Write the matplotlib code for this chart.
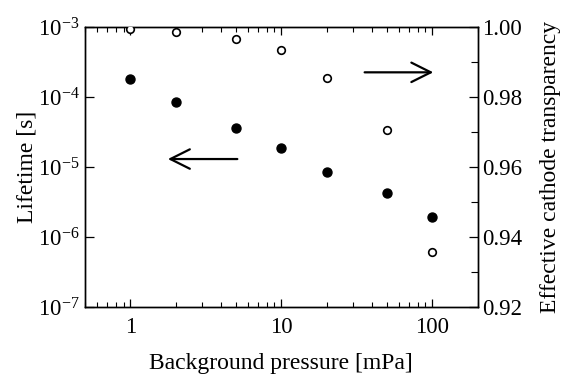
import matplotlib
matplotlib.use("Agg")
import matplotlib.pyplot as plt
from matplotlib.ticker import LogLocator, FixedLocator, NullFormatter, NullLocator, MultipleLocator

plt.rcParams['font.family'] = ['Liberation Serif', 'DejaVu Serif']
plt.rcParams['mathtext.fontset'] = 'custom'
plt.rcParams['mathtext.rm'] = 'Liberation Serif'

pressure = [1, 2, 5, 10, 20, 50, 100]
lifetime = [1.82e-4, 8.45e-5, 3.59e-5, 1.86e-5, 8.5e-6, 4.2e-6, 1.91e-6]
transparency = [0.9995, 0.9987, 0.9967, 0.9934, 0.9856, 0.9706, 0.9356]

y_left_ticks = [1e-7, 1e-6, 1e-5, 1e-4, 1e-3]
y_left_labels = [r'$\mathregular{10^{-7}}$', r'$\mathregular{10^{-6}}$', r'$\mathregular{10^{-5}}$',
                 r'$\mathregular{10^{-4}}$', r'$\mathregular{10^{-3}}$']
y_right_ticks = [0.92, 0.94, 0.96, 0.98, 1.00]
y_right_labels = ['0.92', '0.94', '0.96', '0.98', '1.00']
x_ticks = [1, 10, 100]
x_labels = ['1', '10', '100']

fig = plt.figure(figsize=(5.66, 3.83), dpi=100)
ax = fig.add_axes([85/566, 1 - 307/383, (477.7 - 85)/566, (307 - 27.3)/383])
ax2 = ax.twinx()

ax.scatter(pressure, lifetime, s=42, color='black', zorder=3)
ax2.scatter(pressure, transparency, s=30, facecolor='white', edgecolor='black', linewidth=1.2, zorder=3)

ax.set_xscale('log')
ax.set_yscale('log')
ax.set_xlim(0.5, 200)
ax.set_ylim(1e-7, 1e-3)
ax2.set_ylim(0.92, 1.00)

ax.xaxis.set_major_locator(FixedLocator(x_ticks))
ax.set_xticklabels(x_labels)
ax.xaxis.set_minor_locator(LogLocator(base=10, subs=range(2, 10)))
ax.xaxis.set_minor_formatter(NullFormatter())
ax.yaxis.set_major_locator(FixedLocator(y_left_ticks))
ax.set_yticklabels(y_left_labels)
ax.yaxis.set_minor_locator(NullLocator())

ax2.yaxis.set_major_locator(FixedLocator(y_right_ticks))
ax2.set_yticklabels(y_right_labels)
ax2.yaxis.set_minor_locator(MultipleLocator(0.01))

fs_tick = 16.5
fs_lab = 17
ax.tick_params(axis='x', which='both', direction='in', top=True, labelsize=fs_tick, pad=7)
ax.tick_params(axis='x', which='major', length=6, width=0.9)
ax.tick_params(axis='x', which='minor', length=3.5, width=0.8)
ax.tick_params(axis='y', which='major', direction='in', length=6.5, width=0.9, labelsize=fs_tick, right=False, pad=4)
ax2.tick_params(axis='y', which='major', direction='in', length=6.5, width=0.9, labelsize=fs_tick, pad=3)
ax2.tick_params(axis='y', which='minor', direction='in', length=5, width=0.8)

for a in (ax, ax2):
    for sp in a.spines.values():
        sp.set_linewidth(1.0)

ax.set_xlabel('Background pressure [mPa]', fontsize=fs_lab, labelpad=11)
ax.set_ylabel('Lifetime [s]', fontsize=fs_lab, labelpad=0)
ax2.set_ylabel('Effective cathode transparency', fontsize=fs_lab, labelpad=13)

arrowprops = dict(arrowstyle='->,head_length=1.4,head_width=0.7', lw=1.6, color='black')
ax.annotate('', xy=(0.894, 0.839), xytext=(0.705, 0.839), xycoords='axes fraction', arrowprops=arrowprops)
ax.annotate('', xy=(0.204, 0.529), xytext=(0.395, 0.529), xycoords='axes fraction', arrowprops=arrowprops)

fig.savefig('out.png', dpi=100)
